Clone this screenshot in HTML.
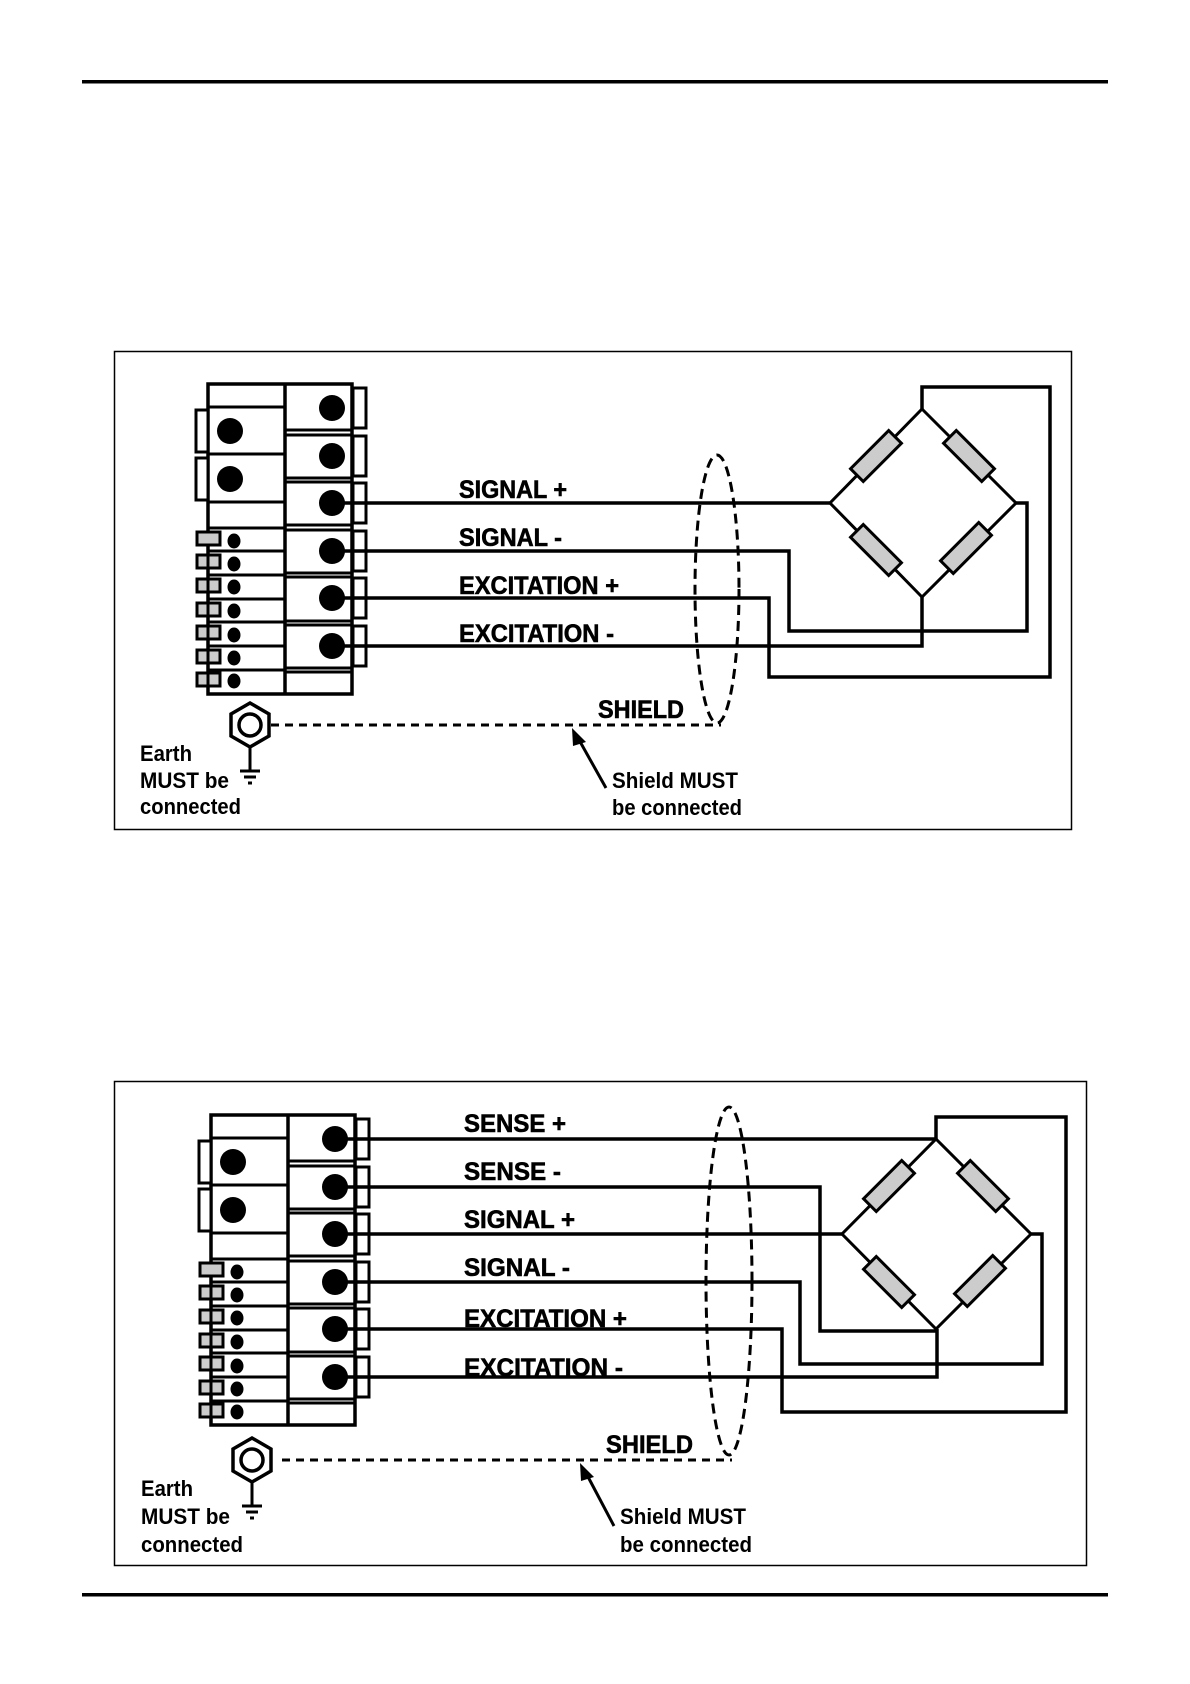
<!DOCTYPE html>
<html><head><meta charset="utf-8"><style>
html,body{margin:0;padding:0;background:#fff;}
svg{display:block;}
text{font-family:"Liberation Sans",sans-serif;font-weight:bold;fill:#000;}
.b{stroke:#000;stroke-width:0.6px;}
</style></head><body>
<svg width="1190" height="1684" viewBox="0 0 1190 1684" xmlns="http://www.w3.org/2000/svg">
<defs>
<g id="conn" stroke="#000" fill="none">
  <rect x="208" y="384" width="144" height="310" stroke-width="3.5" fill="#fff"/>
  <line x1="285" y1="384" x2="285" y2="694" stroke-width="3.5"/>
  <g stroke-width="3">
  <line x1="285" y1="430" x2="352" y2="430"/><line x1="285" y1="435" x2="352" y2="435"/>
  <line x1="285" y1="478" x2="352" y2="478"/><line x1="285" y1="482" x2="352" y2="482"/>
  <line x1="285" y1="525" x2="352" y2="525"/><line x1="285" y1="530" x2="352" y2="530"/>
  <line x1="285" y1="573" x2="352" y2="573"/><line x1="285" y1="577" x2="352" y2="577"/>
  <line x1="285" y1="621" x2="352" y2="621"/><line x1="285" y1="625" x2="352" y2="625"/>
  <line x1="285" y1="668" x2="352" y2="668"/><line x1="285" y1="672" x2="352" y2="672"/>
  <line x1="208" y1="407" x2="285" y2="407"/>
  <line x1="208" y1="454" x2="285" y2="454"/>
  <line x1="208" y1="502" x2="285" y2="502"/>
  <line x1="208" y1="528" x2="285" y2="528"/>
  <line x1="208" y1="551" x2="285" y2="551"/>
  <line x1="208" y1="575" x2="285" y2="575"/>
  <line x1="208" y1="599" x2="285" y2="599"/>
  <line x1="208" y1="622" x2="285" y2="622"/>
  <line x1="208" y1="646" x2="285" y2="646"/>
  <line x1="208" y1="670" x2="285" y2="670"/>
  </g>
  <rect x="196" y="410" width="12" height="42" stroke-width="3" fill="#fff"/>
  <rect x="196" y="458" width="12" height="42" stroke-width="3" fill="#fff"/>
  <g stroke-width="3" fill="#fff">
  <rect x="353" y="388" width="13" height="40"/>
  <rect x="353" y="436" width="13" height="40"/>
  <rect x="353" y="483" width="13" height="40"/>
  <rect x="353" y="531" width="13" height="40"/>
  <rect x="353" y="578" width="13" height="40"/>
  <rect x="353" y="626" width="13" height="40"/>
  </g>
  <g stroke-width="3" fill="#ccc">
  <rect x="197" y="532" width="23" height="13"/>
  <rect x="197" y="555" width="23" height="13"/>
  <rect x="197" y="579" width="23" height="13"/>
  <rect x="197" y="603" width="23" height="13"/>
  <rect x="197" y="626" width="23" height="13"/>
  <rect x="197" y="650" width="23" height="13"/>
  <rect x="197" y="673" width="23" height="13"/>
  </g>
  <line x1="208" y1="545" x2="208" y2="694" stroke-width="3"/>
  <g fill="#000" stroke="none">
  <ellipse cx="234" cy="541" rx="6.5" ry="7.5"/>
  <ellipse cx="234" cy="564" rx="6.5" ry="7.5"/>
  <ellipse cx="234" cy="587" rx="6.5" ry="7.5"/>
  <ellipse cx="234" cy="611" rx="6.5" ry="7.5"/>
  <ellipse cx="234" cy="635" rx="6.5" ry="7.5"/>
  <ellipse cx="234" cy="658" rx="6.5" ry="7.5"/>
  <ellipse cx="234" cy="681" rx="6.5" ry="7.5"/>
  <circle cx="230" cy="431" r="13"/>
  <circle cx="230" cy="479" r="13"/>
  <circle cx="332" cy="408" r="13"/>
  <circle cx="332" cy="456" r="13"/>
  <circle cx="332" cy="503" r="13"/>
  <circle cx="332" cy="551" r="13"/>
  <circle cx="332" cy="598" r="13"/>
  <circle cx="332" cy="646" r="13"/>
  </g>
</g>
<g id="res">
  <rect x="-27" y="-9" width="54" height="18" fill="#ccc" stroke="#000" stroke-width="3"/>
</g>
<g id="earth" stroke="#000" fill="none">
  <polygon points="0,-22 19,-11 19,11 0,22 -19,11 -19,-11" stroke-width="3.5" fill="#fff"/>
  <circle cx="0" cy="0" r="11" stroke-width="3.5"/>
  <line x1="0" y1="22" x2="0" y2="46" stroke-width="3"/>
  <line x1="-10" y1="46" x2="10" y2="46" stroke-width="3"/>
  <line x1="-6" y1="52" x2="6" y2="52" stroke-width="3"/>
  <line x1="-2" y1="58" x2="2" y2="58" stroke-width="3"/>
</g>
</defs>

<rect x="82" y="80" width="1026" height="3.5" fill="#000"/>
<rect x="82" y="1593" width="1026" height="3.5" fill="#000"/>

<!-- Diagram 1 -->
<rect x="114.5" y="351.5" width="957" height="478" fill="none" stroke="#000" stroke-width="1.5"/>
<use href="#conn"/>
<g stroke="#000" stroke-width="3.5" fill="none">
  <polyline points="340,503 830,503"/>
  <polyline points="340,551 789,551 789,631 1027,631 1027,503 1016,503"/>
  <polyline points="340,598 769,598 769,677 1050,677 1050,387 922,387 922,409"/>
  <polyline points="340,646 922,646 922,597"/>
</g>
<polygon points="922,409 1016,503 922,597 830,503" fill="none" stroke="#000" stroke-width="3"/>
<use href="#res" transform="translate(876,456) rotate(-45)"/>
<use href="#res" transform="translate(969,456) rotate(45)"/>
<use href="#res" transform="translate(876,550) rotate(45)"/>
<use href="#res" transform="translate(966,548) rotate(-45)"/>
<g class="b">
<text x="459" y="498" font-size="25" textLength="108" lengthAdjust="spacingAndGlyphs">SIGNAL +</text>
<text x="459" y="546" font-size="25" textLength="103" lengthAdjust="spacingAndGlyphs">SIGNAL -</text>
<text x="459" y="594" font-size="25" textLength="160" lengthAdjust="spacingAndGlyphs">EXCITATION +</text>
<text x="459" y="642" font-size="25" textLength="155" lengthAdjust="spacingAndGlyphs">EXCITATION -</text>
<text x="598" y="718" font-size="25" textLength="86" lengthAdjust="spacingAndGlyphs">SHIELD</text>
</g>
<ellipse cx="717" cy="589" rx="22" ry="134" fill="none" stroke="#000" stroke-width="3" stroke-dasharray="10,6"/>
<line x1="271" y1="725" x2="721" y2="725" stroke="#000" stroke-width="3" stroke-dasharray="8,6"/>
<use href="#earth" transform="translate(250,725)"/>
<line x1="606" y1="788" x2="578" y2="738" stroke="#000" stroke-width="3"/>
<polygon points="572,728 586,742 573,746" fill="#000"/>
<text x="140" y="761" font-size="22" textLength="52" lengthAdjust="spacingAndGlyphs">Earth</text>
<text x="140" y="788" font-size="22" textLength="89" lengthAdjust="spacingAndGlyphs">MUST be</text>
<text x="140" y="814" font-size="22" textLength="101" lengthAdjust="spacingAndGlyphs">connected</text>
<text x="612" y="788" font-size="22" textLength="126" lengthAdjust="spacingAndGlyphs">Shield MUST</text>
<text x="612" y="815" font-size="22" textLength="130" lengthAdjust="spacingAndGlyphs">be connected</text>

<!-- Diagram 2 -->
<rect x="114.5" y="1081.5" width="972" height="484" fill="none" stroke="#000" stroke-width="1.5"/>
<use href="#conn" transform="translate(3,731)"/>
<g stroke="#000" stroke-width="3.5" fill="none">
  <polyline points="343,1139 936,1139"/>
  <polyline points="343,1187 820,1187 820,1331 936,1331"/>
  <polyline points="343,1234 842,1234"/>
  <polyline points="343,1282 800,1282 800,1364 1042,1364 1042,1234 1031,1234"/>
  <polyline points="343,1329 782,1329 782,1412 1066,1412 1066,1117 936,1117 936,1139"/>
  <polyline points="343,1377 937,1377 937,1329"/>
</g>
<polygon points="936,1139 1031,1234 936,1329 842,1234" fill="none" stroke="#000" stroke-width="3"/>
<use href="#res" transform="translate(889,1186) rotate(-45)"/>
<use href="#res" transform="translate(983,1186) rotate(45)"/>
<use href="#res" transform="translate(889,1282) rotate(45)"/>
<use href="#res" transform="translate(980,1281) rotate(-45)"/>
<g class="b">
<text x="464" y="1132" font-size="25" textLength="102" lengthAdjust="spacingAndGlyphs">SENSE +</text>
<text x="464" y="1180" font-size="25" textLength="97" lengthAdjust="spacingAndGlyphs">SENSE -</text>
<text x="464" y="1228" font-size="25" textLength="111" lengthAdjust="spacingAndGlyphs">SIGNAL +</text>
<text x="464" y="1276" font-size="25" textLength="106" lengthAdjust="spacingAndGlyphs">SIGNAL -</text>
<text x="464" y="1327" font-size="25" textLength="163" lengthAdjust="spacingAndGlyphs">EXCITATION +</text>
<text x="464" y="1376" font-size="25" textLength="159" lengthAdjust="spacingAndGlyphs">EXCITATION -</text>
<text x="606" y="1453" font-size="25" textLength="87" lengthAdjust="spacingAndGlyphs">SHIELD</text>
</g>
<ellipse cx="729" cy="1281" rx="23" ry="174" fill="none" stroke="#000" stroke-width="3" stroke-dasharray="10,6"/>
<line x1="282" y1="1460" x2="732" y2="1460" stroke="#000" stroke-width="3" stroke-dasharray="8,6"/>
<use href="#earth" transform="translate(252,1460)"/>
<line x1="614" y1="1526" x2="586" y2="1473" stroke="#000" stroke-width="3"/>
<polygon points="580,1463 594,1477 581,1481" fill="#000"/>
<text x="141" y="1496" font-size="22" textLength="52" lengthAdjust="spacingAndGlyphs">Earth</text>
<text x="141" y="1524" font-size="22" textLength="89" lengthAdjust="spacingAndGlyphs">MUST be</text>
<text x="141" y="1552" font-size="22" textLength="102" lengthAdjust="spacingAndGlyphs">connected</text>
<text x="620" y="1524" font-size="22" textLength="126" lengthAdjust="spacingAndGlyphs">Shield MUST</text>
<text x="620" y="1552" font-size="22" textLength="132" lengthAdjust="spacingAndGlyphs">be connected</text>
</svg>
</body></html>
